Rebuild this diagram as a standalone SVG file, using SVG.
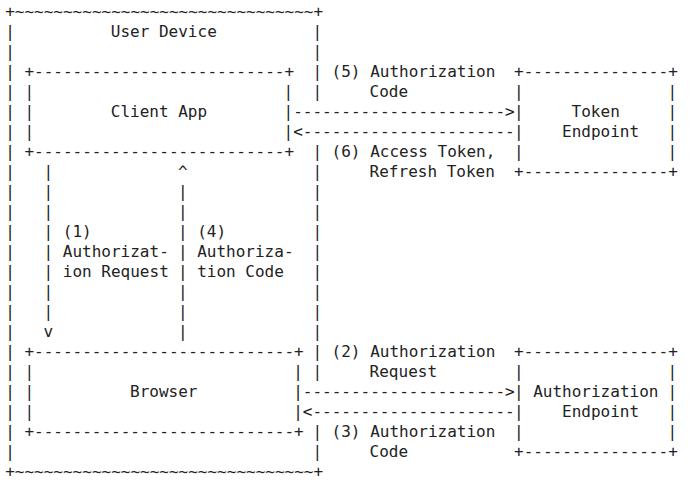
<svg xmlns="http://www.w3.org/2000/svg" width="697" height="482" viewBox="0 0 697 482">
<style>
text { font-family: "DejaVu Sans Mono", "Liberation Mono", monospace; font-size: 16px; fill: #222222; white-space: pre; }
</style>
<rect width="697" height="482" fill="#ffffff"/>
<g id="user-device">
<text x="5.2" y="17">+~~~~~~~~~~~~~~~~~~~~~~~~~~~~~~~+</text>
<text x="5.2" y="477">+~~~~~~~~~~~~~~~~~~~~~~~~~~~~~~~+</text>
<text x="5.2 5.2 5.2 5.2 5.2 5.2 5.2 5.2 5.2 5.2 5.2 5.2 5.2 5.2 5.2 5.2 5.2 5.2 5.2 5.2 5.2 5.2" y="37 57 77 97 117 137 157 177 197 217 237 257 277 297 317 337 357 377 397 417 437 457">||||||||||||||||||||||</text>
<text x="312.4 312.4 312.4 312.4 312.4 312.4 312.4 312.4 312.4 312.4 312.4 312.4 312.4 312.4 312.4 312.4 312.4 312.4" y="37 57 77 97 157 177 197 217 237 257 277 297 317 337 357 377 437 457">||||||||||||||||||</text>
<text x="110.8" y="37">User Device</text>
</g>
<g id="client-app">
<text x="24.4" y="77">+--------------------------+</text>
<text x="24.4" y="157">+--------------------------+</text>
<text x="24.4 24.4 24.4" y="97 117 137">|||</text>
<text x="283.6 283.6 283.6" y="97 117 137">|||</text>
<text x="110.8" y="117">Client App</text>
</g>
<g id="browser">
<text x="24.4" y="357">+---------------------------+</text>
<text x="24.4" y="437">+---------------------------+</text>
<text x="24.4 24.4 24.4" y="377 397 417">|||</text>
<text x="293.2 293.2 293.2" y="377 397 417">|||</text>
<text x="130" y="397">Browser</text>
</g>
<g id="token-endpoint">
<text x="514" y="77">+---------------+</text>
<text x="514" y="177">+---------------+</text>
<text x="514 514 514 514" y="97 117 137 157">||||</text>
<text x="667.6 667.6 667.6 667.6" y="97 117 137 157">||||</text>
<text x="571.6" y="117">Token</text>
<text x="562" y="137">Endpoint</text>
</g>
<g id="authorization-endpoint">
<text x="514" y="357">+---------------+</text>
<text x="514" y="457">+---------------+</text>
<text x="514 514 514 514" y="377 397 417 437">||||</text>
<text x="667.6 667.6 667.6 667.6" y="377 397 417 437">||||</text>
<text x="533.2" y="397">Authorization</text>
<text x="562" y="417">Endpoint</text>
</g>
<g id="connectors">
<text x="293.2" y="117">----------------------&gt;</text>
<text x="293.2" y="137">&lt;----------------------</text>
<text x="302.8" y="397">---------------------&gt;</text>
<text x="302.8" y="417">&lt;---------------------</text>
<text x="43.6 43.6 43.6 43.6 43.6 43.6 43.6 43.6 43.6" y="177 197 217 237 257 277 297 317 337">||||||||v</text>
<text x="178 178 178 178 178 178 178 178 178" y="177 197 217 237 257 277 297 317 337">^||||||||</text>
<text x="331.6" y="77">(5) Authorization</text>
<text x="369.6" y="97">Code</text>
<text x="331.6" y="157">(6) Access Token,</text>
<text x="369.6" y="177">Refresh Token</text>
<text x="62.8" y="237">(1)</text>
<text x="62.8" y="257">Authorizat-</text>
<text x="62.8" y="277">ion Request</text>
<text x="197.2" y="237">(4)</text>
<text x="197.2" y="257">Authoriza-</text>
<text x="197.2" y="277">tion Code</text>
<text x="331.6" y="357">(2) Authorization</text>
<text x="369.6" y="377">Request</text>
<text x="331.6" y="437">(3) Authorization</text>
<text x="369.6" y="457">Code</text>
</g>
</svg>
